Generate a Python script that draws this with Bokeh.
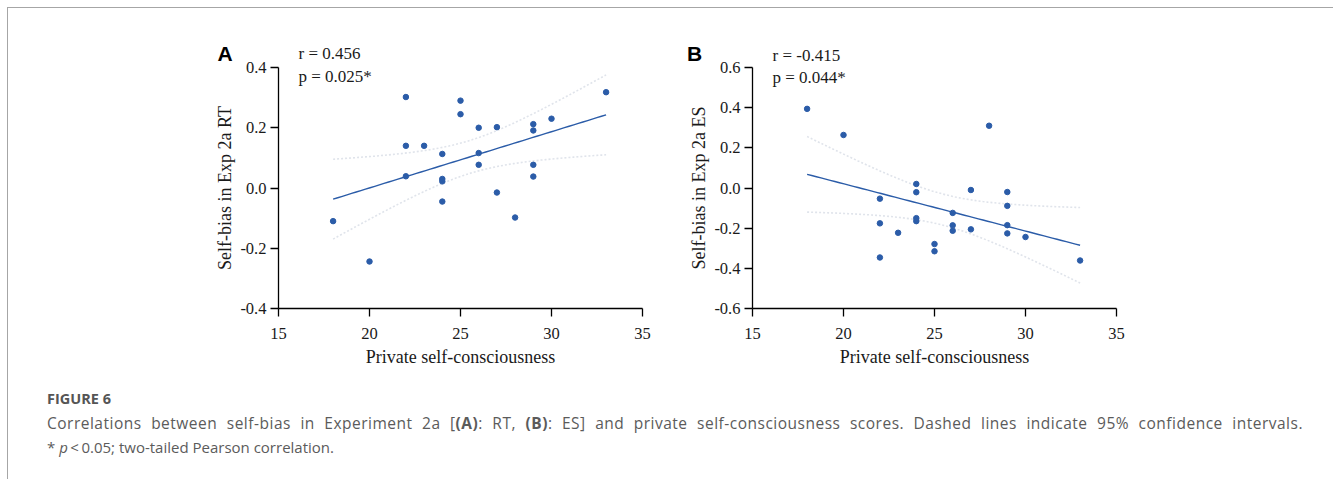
import numpy as np
from bokeh.plotting import figure
from bokeh.models import Range1d, FixedTicker, NumeralTickFormatter, Label, Div, Spacer
from bokeh.layouts import row, column
from bokeh.embed import file_html
from bokeh.resources import INLINE

# ---------------- data ----------------
x_a = [18, 20, 22, 22, 22, 23, 24, 24, 24, 24, 25, 25, 26, 26, 26, 27, 27, 28, 29, 29, 29, 29, 30, 33]
y_a = [-0.110, -0.244, 0.302, 0.140, 0.039, 0.140, 0.113, 0.030, 0.022, -0.045, 0.290, 0.245,
       0.200, 0.116, 0.077, 0.202, -0.015, -0.098, 0.212, 0.191, 0.077, 0.038, 0.230, 0.318]

x_b = [18, 20, 22, 22, 22, 23, 24, 24, 24, 24, 25, 25, 26, 26, 26, 27, 27, 28, 29, 29, 29, 29, 30, 33]
y_b = [0.394, 0.264, -0.053, -0.176, -0.346, -0.223, 0.020, -0.021, -0.150, -0.165, -0.279, -0.315,
       -0.124, -0.186, -0.213, -0.010, -0.206, 0.310, -0.020, -0.089, -0.185, -0.226, -0.244, -0.361]

x_ticks = [15, 20, 25, 30, 35]
y_ticks_a = [-0.4, -0.2, 0.0, 0.2, 0.4]
y_ticks_b = [-0.6, -0.4, -0.2, 0.0, 0.2, 0.4, 0.6]

stats_a = ["r = 0.456", "p = 0.025*"]
stats_b = ["r = -0.415", "p = 0.044*"]
T_CRIT = 2.074  # t(0.975, df=22)

BLUE = "#2b5ca8"
CI_COLOR = "#e0e4eb"
SERIF = "Liberation Serif"


def fit(xs, ys):
    xs = np.asarray(xs, float)
    ys = np.asarray(ys, float)
    n = len(xs)
    b, a = np.polyfit(xs, ys, 1)
    resid = ys - (a + b * xs)
    s = np.sqrt(np.sum(resid ** 2) / (n - 2))
    sxx = np.sum((xs - xs.mean()) ** 2)
    gx = np.linspace(xs.min(), xs.max(), 60)
    gy = a + b * gx
    hw = T_CRIT * s * np.sqrt(1.0 / n + (gx - xs.mean()) ** 2 / sxx)
    return gx, gy, gy - hw, gy + hw


def panel(xs, ys, yticks, ylabel, stats, letter, letter_side, width, bl, br, bt, bb,
          letter_x, letter_y, stat_x, stat_y1, stat_y2):
    p = figure(width=width, height=361, output_backend="svg", toolbar_location=None,
               x_range=Range1d(15, 35), y_range=Range1d(yticks[0], yticks[-1]),
               min_border_left=bl, min_border_right=br, min_border_top=bt, min_border_bottom=bb,
               background_fill_color="white", border_fill_color="white", border_fill_alpha=0,
               outline_line_color=None)
    p.xgrid.grid_line_color = None
    p.ygrid.grid_line_color = None
    gx, gy, lo, hi = fit(xs, ys)
    p.line(gx, lo, line_color=CI_COLOR, line_width=1.6, line_dash="2 2")
    p.line(gx, hi, line_color=CI_COLOR, line_width=1.6, line_dash="2 2")
    p.line(gx, gy, line_color=BLUE, line_width=1.4)
    p.scatter(xs, ys, size=5.5, fill_color=BLUE, line_color=BLUE)

    for ax in (p.xaxis[0], p.yaxis[0]):
        ax.axis_line_color = "black"
        ax.axis_line_width = 1.3
        ax.major_tick_line_color = "black"
        ax.major_tick_line_width = 1.3
        ax.major_tick_out = 8
        ax.major_tick_in = 0
        ax.minor_tick_line_color = None
        ax.major_label_text_font = SERIF
        ax.major_label_text_font_size = "16.5px"
        ax.major_label_text_color = "#1a1a1a"
        ax.axis_label_text_font = SERIF
        ax.axis_label_text_font_style = "normal"
        ax.axis_label_text_font_size = "18px"
        ax.axis_label_text_color = "#1a1a1a"
    p.xaxis.ticker = FixedTicker(ticks=x_ticks)
    p.yaxis.ticker = FixedTicker(ticks=yticks)
    p.yaxis.formatter = NumeralTickFormatter(format="0.0")
    p.xaxis.major_label_standoff = 11
    p.yaxis.major_label_standoff = 4
    p.xaxis.axis_label = "Private self-consciousness"
    p.yaxis.axis_label = ylabel
    p.xaxis.axis_label_standoff = 5
    p.yaxis.axis_label_standoff = 2

    # labels placed in side panels so that they are not clipped to the frame
    p.add_layout(Label(x=letter_x, y=letter_y, text=letter, text_font="Liberation Sans",
                       text_font_style="bold", text_font_size="21px", text_baseline="middle",
                       text_color="black"), letter_side)
    p.add_layout(Label(x=stat_x, y=stat_y1, text=stats[0], text_font=SERIF, text_font_size="17px",
                       text_baseline="middle", text_color="#1a1a1a"), "above")
    p.add_layout(Label(x=stat_x, y=stat_y2, text=stats[1], text_font=SERIF, text_font_size="17px",
                       text_baseline="middle", text_color="#1a1a1a"), "above")
    return p


pa = panel(x_a, y_a, y_ticks_a, "Self-bias in Exp 2a RT", stats_a, "A", "left", 671, 270, 37, 58, 59,
           11.65, 0.446, 16.1, 0.446, 0.369)
pb = panel(x_b, y_b, y_ticks_b, "Self-bias in Exp 2a ES", stats_b, "B", "right", 652, 73, 215, 59, 58,
           11.4, 0.672, 16.1, 0.660, 0.552)

caption_html = (
    '<div style="padding:15px 0 0 34px;font-family:\'Open Sans\';color:#5b5b5b;">'
    '<div style="font-weight:bold;font-size:14.5px;line-height:20px;color:#555;">FIGURE 6</div>'
    '<div style="width:1256px;font-size:15.5px;letter-spacing:0.5px;line-height:24px;margin-top:2px;'
    'text-align:justify;text-align-last:justify;white-space:nowrap;">'
    'Correlations between self-bias in Experiment 2a [<b>(A)</b>: RT, <b>(B)</b>: ES] and private '
    'self-consciousness scores. Dashed lines indicate 95% confidence intervals.</div>'
    '<div style="font-size:15px;line-height:24px;">'
    '* <i>p</i>&thinsp;&lt;&thinsp;0.05; two-tailed Pearson correlation.</div></div>'
)
cap = Div(text=caption_html, width=1323, height=100)

inner = column(row(pa, pb), cap,
               styles={"border-top": "1px solid #a6a6a6", "border-left": "1px solid #a6a6a6",
                       "border-right": "1px solid #a6a6a6"})
layout = column(Spacer(height=7, width=10), row(Spacer(width=7, height=10), inner))

open("out.html", "w").write(file_html(layout, INLINE))
